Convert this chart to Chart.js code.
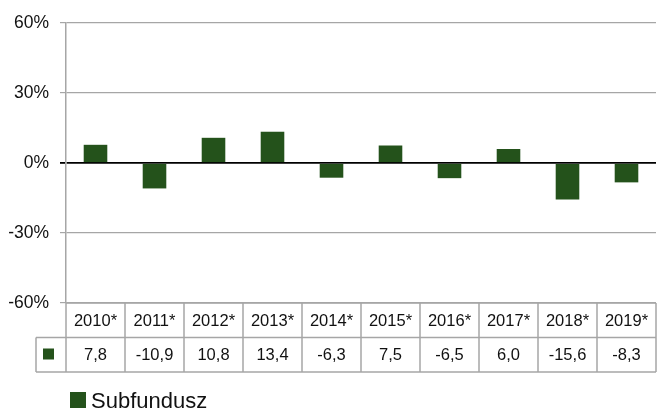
<!DOCTYPE html>
<html><head><meta charset="utf-8">
<script src="https://cdn.jsdelivr.net/npm/chart.js@4"></script>
<style>html,body{margin:0;padding:0;background:#fff;}#wrap{width:657px;height:409px;position:relative;}</style>
</head><body>
<div id="wrap"><canvas id="c" width="657" height="409"></canvas></div>
<script>
const categories = ['2010*','2011*','2012*','2013*','2014*','2015*','2016*','2017*','2018*','2019*'];
const seriesName = 'Subfundusz';
const values = [7.8, -10.9, 10.8, 13.4, -6.3, 7.5, -6.5, 6.0, -15.6, -8.3];
const yTicks = [-60, -30, 0, 30, 60];

const GREEN = '#24521b';
const GRID = '#a6a6a6';
const TXT = '#111111';
const FONT = '"Liberation Sans", Arial, sans-serif';

const tablePlugin = {
  id: 'tablePlugin',
  afterDraw(chart) {
    const ctx = chart.ctx;
    const xs = chart.scales.x;
    const area = chart.chartArea;
    const n = categories.length;
    const w = area.width / n;
    const top = area.bottom;
    const rowH = 34.5;
    const labelLeft = 36;
    ctx.save();
    ctx.strokeStyle = GRID;
    ctx.lineWidth = 1.5;
    ctx.beginPath();
    ctx.moveTo(area.left, top); ctx.lineTo(area.right, top);
    ctx.moveTo(labelLeft, top + rowH); ctx.lineTo(area.right, top + rowH);
    ctx.moveTo(labelLeft, top + 2 * rowH); ctx.lineTo(area.right, top + 2 * rowH);
    ctx.moveTo(labelLeft, top + rowH); ctx.lineTo(labelLeft, top + 2 * rowH);
    for (let i = 0; i <= n; i++) {
      const x = area.left + i * w;
      ctx.moveTo(x, top); ctx.lineTo(x, top + 2 * rowH);
    }
    ctx.stroke();
    ctx.fillStyle = GREEN;
    ctx.fillRect(labelLeft + 7, top + rowH + 11, 11, 11);
    ctx.fillStyle = TXT;
    ctx.font = '16.5px ' + FONT;
    ctx.textAlign = 'center';
    ctx.textBaseline = 'middle';
    for (let i = 0; i < n; i++) {
      const cx = xs.getPixelForValue(i);
      ctx.fillText(categories[i], cx, top + rowH / 2 + 1);
      ctx.fillText(values[i].toFixed(1).replace('.', ','), cx, top + rowH * 1.5 + 1);
    }
    ctx.fillStyle = GREEN;
    ctx.fillRect(70, 392, 16, 16);
    ctx.fillStyle = TXT;
    ctx.font = '22px ' + FONT;
    ctx.textAlign = 'left';
    ctx.textBaseline = 'alphabetic';
    ctx.fillText(seriesName, 91, 408);
    ctx.restore();
  }
};

new Chart(document.getElementById('c'), {
  type: 'bar',
  data: {
    labels: categories,
    datasets: [{
      label: seriesName,
      data: values,
      backgroundColor: GREEN,
      borderWidth: 0,
      categoryPercentage: 1,
      barPercentage: 0.4
    }]
  },
  options: {
    responsive: false,
    animation: false,
    layout: { padding: { top: 23, bottom: 106, left: 0, right: 1 } },
    plugins: { legend: { display: false }, tooltip: { enabled: false } },
    scales: {
      x: { display: false, offset: true },
      y: {
        min: -60, max: 60,
        afterFit(scale) { scale.width = 66; },
        afterBuildTicks(scale) { scale.ticks = yTicks.map(v => ({ value: v })); },
        border: { display: true, color: GRID, width: 1.5 },
        grid: {
          color: ctx => ctx.tick && ctx.tick.value === 0 ? '#000' : GRID,
          lineWidth: ctx => ctx.tick && ctx.tick.value === 0 ? 1.8 : 1.2,
          tickLength: 6,
          drawTicks: true
        },
        ticks: {
          padding: 11,
          color: TXT,
          font: { size: 17.5, family: FONT },
          callback: v => v + '%'
        }
      }
    }
  },
  plugins: [tablePlugin]
});
</script>
</body></html>
